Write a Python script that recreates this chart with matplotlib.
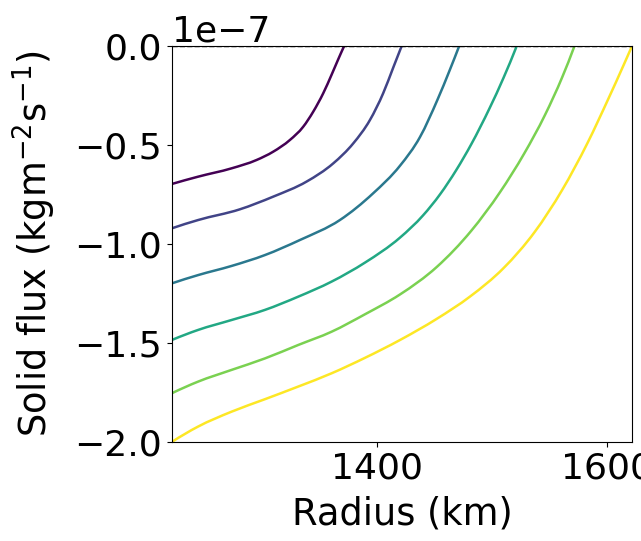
import numpy as np
import matplotlib
matplotlib.use("Agg")
import matplotlib.pyplot as plt
from matplotlib.path import Path
from matplotlib.patches import PathPatch

# radius (km) and solid flux (in units of 1e-7 kg m^-2 s^-1)
r_150 = [1221.7, 1244.6, 1273.6, 1295.3, 1309.8, 1324.3, 1335.9, 1344.6, 1353.3, 1360.6, 1366.3, 1371.5]
f_150 = [-0.697, -0.660, -0.618, -0.576, -0.534, -0.475, -0.408, -0.332, -0.239, -0.145, -0.068, 0.0]

r_200 = [1221.7, 1244.6, 1280.8, 1309.8, 1338.8, 1362.0, 1379.4, 1393.9, 1405.4, 1414.1, 1421.5]
f_200 = [-0.921, -0.879, -0.825, -0.761, -0.685, -0.593, -0.492, -0.374, -0.239, -0.110, 0.0]

r_250 = [1221.7, 1244.6, 1273.6, 1302.6, 1333.0, 1367.8, 1396.7, 1420.0, 1437.4, 1452.5, 1463.4, 1471.5]
f_250 = [-1.199, -1.157, -1.111, -1.056, -0.980, -0.879, -0.744, -0.605, -0.460, -0.273, -0.120, 0.0]

r_300 = [1221.7, 1244.6, 1273.6, 1302.6, 1331.6, 1360.6, 1389.6, 1420.0, 1440.0, 1455.0, 1469.0, 1482.0, 1498.0, 1510.0, 1521.5]
f_300 = [-1.485, -1.434, -1.384, -1.333, -1.266, -1.190, -1.094, -0.968, -0.856, -0.748, -0.626, -0.496, -0.313, -0.161, 0.0]

r_350 = [1221.7, 1244.6, 1273.6, 1302.6, 1331.6, 1360.6, 1389.6, 1420.0, 1452.0, 1482.0, 1507.0, 1528.0, 1546.0, 1561.0, 1571.7]
f_350 = [-1.754, -1.695, -1.636, -1.578, -1.510, -1.443, -1.355, -1.255, -1.116, -0.933, -0.738, -0.543, -0.349, -0.158, 0.0]

r_400 = [1221.7, 1244.6, 1273.6, 1302.6, 1331.6, 1360.6, 1389.6, 1420.0, 1452.0, 1481.0, 1510.0, 1537.0, 1561.0, 1583.0, 1601.5, 1614.5, 1621.7]
f_400 = [-2.0, -1.922, -1.847, -1.784, -1.720, -1.653, -1.575, -1.485, -1.378, -1.265, -1.122, -0.940, -0.727, -0.490, -0.262, -0.095, 0.0]

radii = [r_150, r_200, r_250, r_300, r_350, r_400]
fluxes = [f_150, f_200, f_250, f_300, f_350, f_400]


def smooth_path(x, y):
    # cubic Hermite through the read points (x is uneven), drawn as Bezier segments
    x = np.asarray(x, float)
    y = np.asarray(y, float)
    h = np.diff(x)
    d = np.diff(y) / h
    m = np.empty_like(x)
    m[1:-1] = (h[1:] * d[:-1] + h[:-1] * d[1:]) / (h[:-1] + h[1:])
    m[0] = 2 * d[0] - m[1]
    m[-1] = 2 * d[-1] - m[-2]
    verts = [(x[0], y[0])]
    codes = [Path.MOVETO]
    for i in range(len(h)):
        verts += [(x[i] + h[i] / 3, y[i] + m[i] * h[i] / 3),
                  (x[i + 1] - h[i] / 3, y[i + 1] - m[i + 1] * h[i] / 3),
                  (x[i + 1], y[i + 1])]
        codes += [Path.CURVE4] * 3
    return Path(verts, codes)


plt.rcParams['font.size'] = 26

fig = plt.figure(figsize=(6.41, 5.41), dpi=100)
ax = fig.add_axes([0.268, 0.183, 0.718, 0.732])

colors = plt.cm.viridis(np.linspace(0, 1, len(radii)))
for r, f, c in zip(radii, fluxes, colors):
    ax.add_patch(PathPatch(smooth_path(r, np.array(f) * 1e-7), fill=False,
                           edgecolor=c, lw=1.8, capstyle='butt'))

ax.axhline(0, color='k', ls='--', lw=1)
ax.set_xlim(1221.7, 1621.7)
ax.set_ylim(-2e-7, 0)
ax.set_xticks([1400, 1600])
ax.set_xlabel("Radius (km)", fontsize=26.5, labelpad=7)
ax.set_ylabel(r"Solid flux (kgm$^{-2}$s$^{-1}$)", fontsize=26.5, labelpad=12)

fig.savefig("out.png", dpi=100)
